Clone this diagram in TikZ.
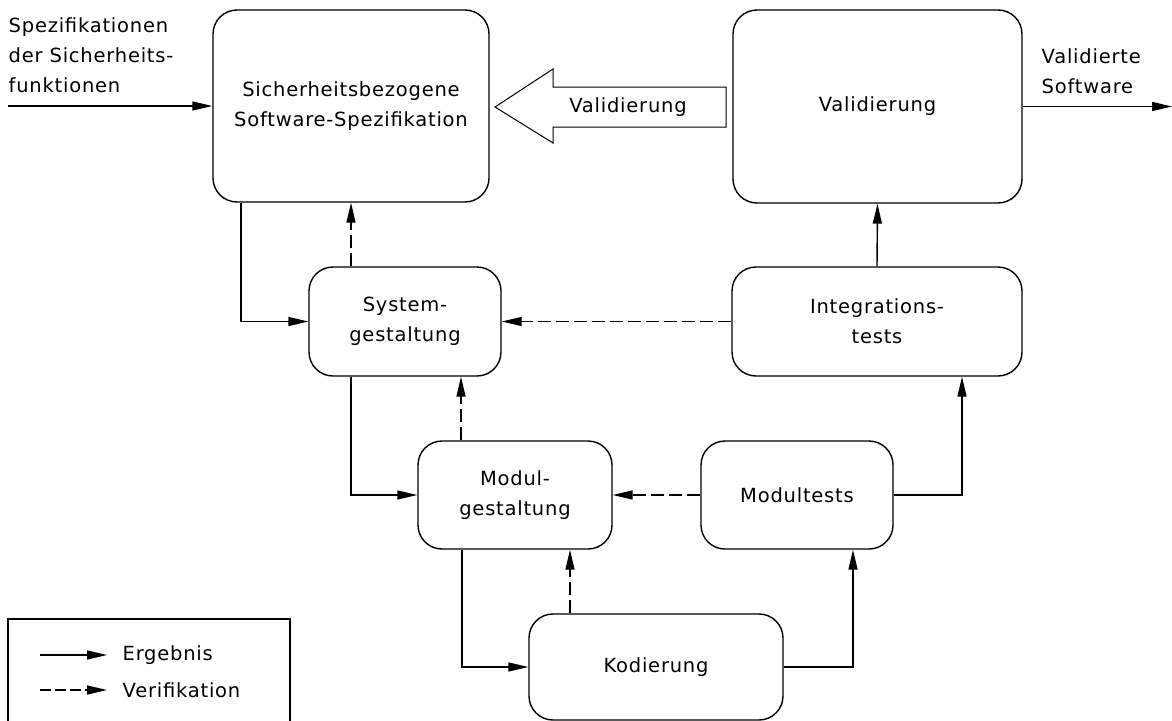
\documentclass[tikz,border=0pt]{standalone}
\usepackage{fontspec}
\setmainfont{DejaVu Sans}[LetterSpace=4]
\usetikzlibrary{arrows.meta}
\begin{document}
\begin{tikzpicture}[x=1pt,y=-1pt,
  font=\fontsize{19.5}{30}\selectfont,
  line width=1.4pt,
  blk/.style={draw, rounded corners=24pt, align=center, inner sep=0pt},
  res/.style={-{Triangle[length=20pt,width=9pt]}},
  ver/.style={res, dash pattern=on 13pt off 5pt},
  lbl/.style={inner sep=0pt, align=left}]
\useasboundingbox (0,0) rectangle (1172,720);
\begin{scope}
\clip (0,0) rectangle (1172,720);
% boxes
\node[blk, minimum width=276pt, minimum height=192pt] (spec) at (351,106) {Sicherheitsbezogene\\Software-Spezifikation};
\node[blk, minimum width=289pt, minimum height=193pt] (val) at (877.5,106.5) {Validierung};
\node[blk, minimum width=192pt, minimum height=109pt] (sys) at (405,321.5) {System-\\gestaltung};
\node[blk, minimum width=290pt, minimum height=109pt] (integ) at (877,321.5) {Integrations-\\tests};
\node[blk, minimum width=194pt, minimum height=108pt] (modul) at (515,495) {Modul-\\gestaltung};
\node[blk, minimum width=192pt, minimum height=108pt] (mtest) at (797,495) {Modultests};
\node[blk, minimum width=254pt, minimum height=106pt] (kod) at (656,667) {Kodierung};
% legend
\node[draw, line width=1.2pt, minimum width=282pt, minimum height=140pt, inner sep=0pt] (legend) at (149,689) {};
\end{scope}
% hollow arrow
\draw[line width=1pt] (495,107) -- (553,69) -- (553,87) -- (726,87) -- (726,127) -- (553,127) -- (553,143) -- cycle;
\node (vallbl) at (628,107) {Validierung};
% texts
\node[lbl, anchor=north west] (intext) at (8,17) {Spezifikationen\\der Sicherheits-\\funktionen};
\node[lbl, anchor=north west] (outtext) at (1041,48) {Validierte\\Software};
% connectors
\coordinate (inp) at (8,106);
\coordinate (outp) at (1172,106.5);
\draw[res] (inp) -- (spec.west);
\draw[res] (val.east) -- (outp);
\draw[res] ([xshift=-110pt]spec.south) |- (sys.west);
\draw[ver] ([xshift=-54pt]sys.north) -- ([xshift=-54pt]sys.north |- spec.south);
\draw[res] (integ.north) -- (val.south);
\draw[ver] (integ.west) -- (sys.east);
\draw[res] ([xshift=-54pt]sys.south) |- (modul.west);
\draw[ver] ([xshift=-54pt]modul.north) -- ([xshift=-54pt]modul.north |- sys.south);
\draw[ver] (mtest.west) -- (modul.east);
\draw[res] (mtest.east) -| ([xshift=85pt]integ.south);
\draw[res] ([xshift=-53pt]modul.south) |- (kod.west);
\draw[ver] ([xshift=-86pt]kod.north) -- ([xshift=-86pt]kod.north |- modul.south);
\draw[res] (kod.east) -| ([xshift=56pt]mtest.south);
% legend entries
\coordinate (l1a) at (40,655);
\coordinate (l1b) at (107,655);
\coordinate (l2a) at (40,690);
\coordinate (l2b) at (107,690);
\draw[res] (l1a) -- (l1b);
\draw[ver, dash pattern=on 11pt off 4pt] (l2a) -- (l2b);
\node[lbl, anchor=west] (erg) at (122,655) {Ergebnis};
\node[lbl, anchor=west] (verif) at (122,690) {Verifikation};
\end{tikzpicture}
\end{document}
